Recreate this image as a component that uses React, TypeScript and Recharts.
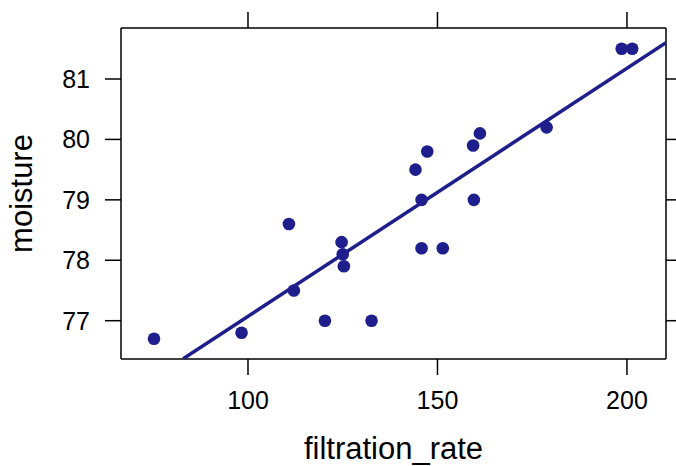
import { ComposedChart, Scatter, XAxis, YAxis } from "recharts";

// filtration_rate vs moisture
const filtrationRate = [75.2, 98.3, 110.8, 112.1, 120.3, 124.7, 125.0, 125.3, 132.6, 144.2, 145.8, 145.8, 147.3, 151.4, 159.4, 159.6, 161.2, 178.8, 198.6, 201.4];
const moisture = [76.7, 76.8, 78.6, 77.5, 77.0, 78.3, 78.1, 77.9, 77.0, 79.5, 79.0, 78.2, 79.8, 78.2, 79.9, 79.0, 80.1, 80.2, 81.5, 81.5];

// fitted line endpoints (as seen at the panel edges)
const fitX = [82.9, 210.3];
const fitY = [76.37, 81.6];

const xTicks = [100, 150, 200];
const yTicks = [77, 78, 79, 80, 81];
const xDomain = [66.49, 210.3];
const yDomain = [76.366, 81.844];

const points = filtrationRate.map((x, i) => ({ x, y: moisture[i] }));
const fit = fitX.map((x, i) => ({ x, y: fitY[i] }));

const BLUE = "#1e1e8c";
const FONT = "'Liberation Sans', Arial, Helvetica, sans-serif";
const axisStroke = { stroke: "#000", strokeWidth: 1.5 };

const Dot = (props: any) => <circle cx={props.cx} cy={props.cy} r={6.3} fill={BLUE} />;

const XTitle = ({ viewBox }: any) => (
  <text x={viewBox.x + viewBox.width / 2} y={459} textAnchor="middle" fontSize={31} fontFamily={FONT} fill="#000">
    filtration_rate
  </text>
);

const YTitle = ({ viewBox }: any) => {
  const cy = viewBox.y + viewBox.height / 2;
  return (
    <text x={31.7} y={cy} transform={`rotate(-90, 31.7, ${cy})`} textAnchor="middle" fontSize={31} fontFamily={FONT} fill="#000">
      moisture
    </text>
  );
};

export default function App() {
  return (
    <div style={{ position: "absolute", left: 0, top: 0, background: "#fff" }}>
      <ComposedChart width={676} height={466} data={points} margin={{ top: 0, right: 0, bottom: 0, left: 0 }}>
        <XAxis
          xAxisId="b"
          dataKey="x"
          type="number"
          orientation="bottom"
          domain={xDomain}
          ticks={xTicks}
          allowDataOverflow
          height={107}
          tickSize={16}
          tickMargin={16}
          axisLine={axisStroke}
          tickLine={axisStroke}
          tick={{ fontSize: 25, fontFamily: FONT, fill: "#000" }}
          label={<XTitle />}
        />
        <XAxis
          xAxisId="t"
          dataKey="x"
          type="number"
          orientation="top"
          domain={xDomain}
          ticks={xTicks}
          allowDataOverflow
          height={28}
          tickSize={16}
          axisLine={axisStroke}
          tickLine={axisStroke}
          tickFormatter={() => ""}
        />
        <YAxis
          yAxisId="l"
          dataKey="y"
          type="number"
          orientation="left"
          domain={yDomain}
          ticks={yTicks}
          allowDataOverflow
          width={121}
          tickSize={16}
          tickMargin={15}
          axisLine={axisStroke}
          tickLine={axisStroke}
          tick={{ fontSize: 25, fontFamily: FONT, fill: "#000" }}
          label={<YTitle />}
        />
        <YAxis
          yAxisId="r"
          dataKey="y"
          type="number"
          orientation="right"
          domain={yDomain}
          ticks={yTicks}
          allowDataOverflow
          width={10}
          tickSize={16}
          axisLine={axisStroke}
          tickLine={axisStroke}
          tickFormatter={() => ""}
        />
        <Scatter
          xAxisId="b"
          yAxisId="l"
          data={fit}
          line={{ stroke: BLUE, strokeWidth: 3.5 }}
          shape={() => <g />}
          isAnimationActive={false}
        />
        <Scatter xAxisId="b" yAxisId="l" data={points} shape={Dot} isAnimationActive={false} />
      </ComposedChart>
    </div>
  );
}
